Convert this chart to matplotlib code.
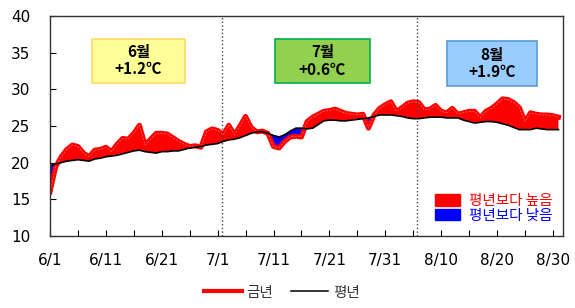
import numpy as np
import matplotlib
matplotlib.use("Agg")
import matplotlib.pyplot as plt
from matplotlib.patches import Patch, Rectangle
from matplotlib.lines import Line2D

plt.rcParams['font.family'] = ['DejaVu Sans', 'Noto Sans CJK KR']
KR = ['Noto Sans CJK KR', 'DejaVu Sans']

# daily mean temperature, 6/1 .. 8/31
this_year = [16.0, 19.4, 20.8, 21.8, 22.4, 22.2, 21.3, 20.8, 21.7, 21.8,
             22.1, 21.5, 22.5, 23.3, 23.2, 24.0, 25.1, 22.4, 23.2, 24.0,
             24.0, 23.9, 23.4, 22.9, 22.5, 22.2, 22.3, 22.1, 24.2, 24.6,
             24.4, 23.8, 25.1, 23.8, 25.0, 26.3, 24.8, 24.2, 24.3, 24.0,
             22.2, 22.0, 22.9, 23.5, 23.6, 23.5, 25.6, 26.2, 26.6, 27.0,
             27.1, 27.3, 27.0, 26.7, 26.6, 26.5, 26.6, 24.7, 26.5, 27.4,
             27.9, 28.3, 27.0, 27.5, 28.1, 28.3, 28.2, 27.2, 27.3, 27.8,
             27.0, 26.8, 27.4, 26.6, 26.8, 27.0, 27.0, 26.1, 27.0, 27.4,
             28.0, 28.7, 28.6, 28.2, 27.5, 25.6, 26.8, 26.6, 26.5, 26.5,
             26.4, 26.2]
normal = [19.6, 19.8, 20.0, 20.2, 20.3, 20.4, 20.3, 20.2, 20.5, 20.6,
          20.8, 20.9, 21.0, 21.2, 21.4, 21.6, 21.7, 21.5, 21.4, 21.3,
          21.5, 21.5, 21.6, 21.6, 21.8, 22.0, 22.1, 22.2, 22.4, 22.5,
          22.6, 22.9, 23.1, 23.2, 23.4, 23.7, 24.0, 24.2, 24.2, 24.0,
          23.7, 23.5, 23.8, 24.3, 24.7, 24.7, 24.6, 24.7, 25.2, 25.7,
          25.8, 25.8, 25.7, 25.7, 25.8, 25.9, 26.0, 26.1, 26.3, 26.5,
          26.5, 26.5, 26.4, 26.3, 26.1, 26.0, 26.0, 26.1, 26.2, 26.2,
          26.2, 26.1, 26.1, 26.1, 25.8, 25.6, 25.4, 25.5, 25.6, 25.6,
          25.5, 25.3, 25.1, 24.8, 24.5, 24.5, 24.5, 24.7, 24.6, 24.5,
          24.5, 24.5]
tick_labels = ['6/1', '6/11', '6/21', '7/1', '7/11', '7/21', '7/31',
               '8/10', '8/20', '8/30']
month_names = ['6월', '7월', '8월']
month_anoms = ['+1.2℃', '+0.6℃', '+1.9℃']

days = np.arange(len(this_year))
cur = np.array(this_year)
nrm = np.array(normal)

fig = plt.figure(figsize=(5.75, 3.08), dpi=100)
ax = fig.add_axes([0.087, 0.234, 0.892, 0.714])

ax.fill_between(days, nrm, cur, where=cur >= nrm, interpolate=True,
                color='#ff0000', lw=0)
ax.fill_between(days, nrm, cur, where=cur < nrm, interpolate=True,
                color='#0000ff', lw=0)
ax.plot(days, cur, color='#ff0000', lw=3.6, solid_joinstyle='round')
ax.plot(days, cur, color='white', lw=0.5, alpha=0.45, ls=(0, (3, 2)))
ax.plot(days, nrm, color='black', lw=1.2)

# month separators
for xv in [30.8, 65.6]:
    ax.axvline(xv, color='#444444', lw=1.0, ls=':')

# month boxes
boxes = [(7.5, 24.1, 30.9, 36.9, '#ffff99', '#ffd966'),
         (40.2, 57.3, 30.8, 36.9, '#92d050', '#00b050'),
         (71.0, 87.1, 30.5, 36.6, '#99ccff', '#5b9bd5')]
for (x0, x1, y0, y1, fc, ec), nm, an in zip(boxes, month_names, month_anoms):
    ax.add_patch(Rectangle((x0, y0), x1 - x0, y1 - y0, facecolor=fc,
                           edgecolor=ec, lw=1.2, zorder=3))
    ax.text((x0 + x1) / 2, (y0 + y1) / 2, nm + '\n' + an, ha='center',
            va='center', fontsize=11, fontweight='bold', family=KR,
            linespacing=1.1, zorder=4)

ax.set_xlim(0, 91.8)
ax.set_ylim(10, 40)
ax.set_yticks(np.arange(10, 41, 5))
ax.set_xticks(np.arange(0, 92, 5))
ax.set_xticklabels([tick_labels[i // 2] if i % 2 == 0 else ''
                    for i in range(len(np.arange(0, 92, 5)))])
ax.tick_params(direction='in', length=4, labelsize=11, colors='black')
ax.tick_params(axis='y', pad=14)
ax.tick_params(axis='x', pad=12)
for s in ax.spines.values():
    s.set_linewidth(1.0)
    s.set_color('#333333')

leg = ax.legend(handles=[Patch(color='#ff0000'), Patch(color='#0000ff')],
                labels=['평년보다 높음', '평년보다 낮음'],
                loc='lower right', bbox_to_anchor=(1.005, 0.0),
                frameon=False, prop={'family': KR, 'size': 10.5},
                labelcolor=['#ff0000', '#0000ff'], handlelength=1.7,
                handleheight=0.8, handletextpad=0.6, labelspacing=0.05)

fig.legend(handles=[Line2D([], [], color='#ff0000', lw=3),
                    Line2D([], [], color='black', lw=1.1)],
           labels=['금년', '평년'], loc='center', ncol=2,
           bbox_to_anchor=(0.49, 0.05), frameon=False,
           prop={'family': KR, 'size': 10.5}, labelcolor='#333333',
           handlelength=2.6, handletextpad=0.3, columnspacing=1.2)

fig.savefig('out.png', dpi=100)
